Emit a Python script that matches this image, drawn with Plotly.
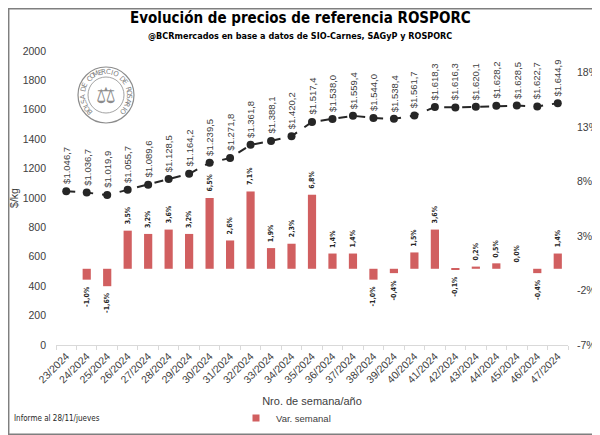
import math
import plotly.graph_objects as go

# datos
semanas = ['23/2024', '24/2024', '25/2024', '26/2024', '27/2024', '28/2024', '29/2024',
           '30/2024', '31/2024', '32/2024', '33/2024', '34/2024', '35/2024', '36/2024',
           '37/2024', '38/2024', '39/2024', '40/2024', '41/2024', '42/2024', '43/2024',
           '44/2024', '45/2024', '46/2024', '47/2024']
precio = [1046.7, 1036.7, 1019.9, 1055.7, 1089.6, 1128.5, 1164.2, 1239.5, 1271.8, 1361.8,
          1388.1, 1420.2, 1517.4, 1538.0, 1559.4, 1544.0, 1538.4, 1561.7, 1618.3, 1616.3,
          1620.1, 1628.2, 1628.5, 1622.7, 1644.9]
var_semanal = [None, -1.0, -1.6, 3.5, 3.2, 3.6, 3.2, 6.5, 2.6, 7.1, 1.9, 2.3, 6.8, 1.4,
               1.4, -1.0, -0.4, 1.5, 3.6, -0.1, 0.2, 0.5, 0.0, -0.4, 1.4]
ticks_der = [-7, -2, 3, 8, 13, 18]

# la pagina tiene 8px de margen en el body
OFF = 8
W, H = 600 - OFF, 435 - OFF
L, R, T, B = 48, 32, 43, 90
PW, PH = W - L - R, H - T - B
NARROW = 'DejaVu Sans Condensed, Liberation Sans, sans-serif'


def px(x):
    # x en pixeles de pantalla -> paper
    return (x - OFF - L) / PW


def py(y):
    return (H - B - (y - OFF)) / PH


def fmt_precio(v):
    s = f"{v:,.1f}".replace(",", "X").replace(".", ",").replace("X", ".")
    return "$" + s


def fmt_pct(v):
    return f"{v:.1f}%".replace(".", ",")


ROJO = '#d15f60'
fig = go.Figure()

fig.add_trace(go.Bar(x=semanas, y=var_semanal, name='Var. semanal', yaxis='y2',
                     showlegend=False, marker=dict(color=ROJO, line=dict(width=0)),
                     width=0.4))
# entrada de leyenda con cuadrado chico
fig.add_trace(go.Scatter(x=[None], y=[None], mode='markers', name='Var. semanal',
                         yaxis='y2', marker=dict(symbol='square', size=7, color=ROJO)))
fig.add_trace(go.Scatter(x=semanas, y=precio, mode='lines+markers', showlegend=False,
                         line=dict(color='#262626', width=2, dash='dash'),
                         marker=dict(color='#262626', size=8)))

annots = []
for s, p in zip(semanas, precio):
    annots.append(dict(x=s, y=p, xref='x', yref='y', text=fmt_precio(p), showarrow=False,
                       textangle=-90, yanchor='bottom', xanchor='center', yshift=5,
                       font=dict(size=9.5, color='#404040', family='Liberation Sans')))
for s, v in zip(semanas, var_semanal):
    if v is None:
        continue
    neg = v < 0
    annots.append(dict(x=s, y=v, xref='x', yref='y2', text='<b>' + fmt_pct(v) + '</b>',
                       showarrow=False, textangle=-90,
                       yanchor='top' if neg else 'bottom', xanchor='center',
                       yshift=-4 if neg else 4,
                       font=dict(size=7, color='#262626', family=NARROW)))

# titulo
annots.append(dict(x=px(300), y=py(18), xref='paper', yref='paper', showarrow=False,
                   xanchor='center', yanchor='middle',
                   text='<b>Evolución de precios de referencia ROSPORC</b>',
                   font=dict(size=15, color='black', family=NARROW)))
annots.append(dict(x=px(300), y=py(36), xref='paper', yref='paper', showarrow=False,
                   xanchor='center', yanchor='middle',
                   text='<b>@BCRmercados en base a datos de SIO-Carnes, SAGyP y ROSPORC</b>',
                   font=dict(size=9, color='black', family=NARROW)))
annots.append(dict(x=px(12), y=py(418), xref='paper', yref='paper', showarrow=False,
                   xanchor='left', yanchor='middle', text='Informe al 28/11/jueves',
                   font=dict(size=8, color='#262626', family=NARROW)))

# logo
cx, cy = 106, 95
shapes = []
for r, w in [(28, 1.2), (18, 0.8)]:
    shapes.append(dict(type='circle', xref='paper', yref='paper',
                       x0=px(cx - r), x1=px(cx + r), y0=py(cy + r), y1=py(cy - r),
                       line=dict(color='#8c8c8c', width=w)))
leyenda = 'BOLSA DE COMERCIO DE ROSARIO'
n = len(leyenda)
for i, ch in enumerate(leyenda):
    th = 225 - i * 270 / (n - 1)
    x = cx + 23 * math.cos(math.radians(th))
    y = cy - 23 * math.sin(math.radians(th))
    annots.append(dict(x=px(x), y=py(y), xref='paper', yref='paper', text=ch,
                       showarrow=False, textangle=90 - th, xanchor='center', yanchor='middle',
                       font=dict(size=7, color='#7f7f7f', family='DejaVu Sans')))
annots.append(dict(x=px(cx), y=py(cy), xref='paper', yref='paper', text='⚖',
                   xanchor='center', yanchor='middle',
                   showarrow=False, font=dict(size=22, color='#8c8c8c', family='DejaVu Sans')))

# marco
shapes.append(dict(type='rect', xref='paper', yref='paper', x0=px(OFF + 0.7), x1=px(599.3),
                   y0=py(434.3), y1=py(OFF + 0.7), line=dict(color='#7f7f7f', width=1.5)))

fig.update_layout(
    width=W, height=H, margin=dict(l=L, r=R, t=T, b=B, autoexpand=False),
    paper_bgcolor='white', plot_bgcolor='white',
    font=dict(family='Liberation Sans', size=10.5, color='#404040'),
    xaxis=dict(type='category', range=[-0.5, len(semanas) - 0.5], tickangle=-45,
               showline=True, linecolor='#d9d9d9', automargin=False,
               ticks='outside', tickson='boundaries', ticklen=4, tickcolor='#d9d9d9',
               tickfont=dict(size=10.5, color='#404040'),
               title=dict(text='Nro. de semana/año', font=dict(size=11, color='#404040'),
                          standoff=12)),
    yaxis=dict(range=[0, 2000], dtick=200, showgrid=False, zeroline=False,
               automargin=False, ticklabelstandoff=9,
               tickfont=dict(size=10.5, color='#404040'),
               title=dict(text='$/kg', font=dict(size=10.5, color='#404040'), standoff=10)),
    yaxis2=dict(range=[-7, 20], overlaying='y', side='right', showgrid=False,
                zeroline=False, tickvals=ticks_der, automargin=False, ticklabelstandoff=8,
                ticktext=[f"{t}%" for t in ticks_der],
                tickfont=dict(size=10.5, color='#404040')),
    legend=dict(orientation='h', x=px(286), xanchor='center', y=py(418), yanchor='middle',
                font=dict(size=9.5, color='#404040'), itemwidth=30),
    annotations=annots, shapes=shapes,
)

fig.write_html("out.html")
